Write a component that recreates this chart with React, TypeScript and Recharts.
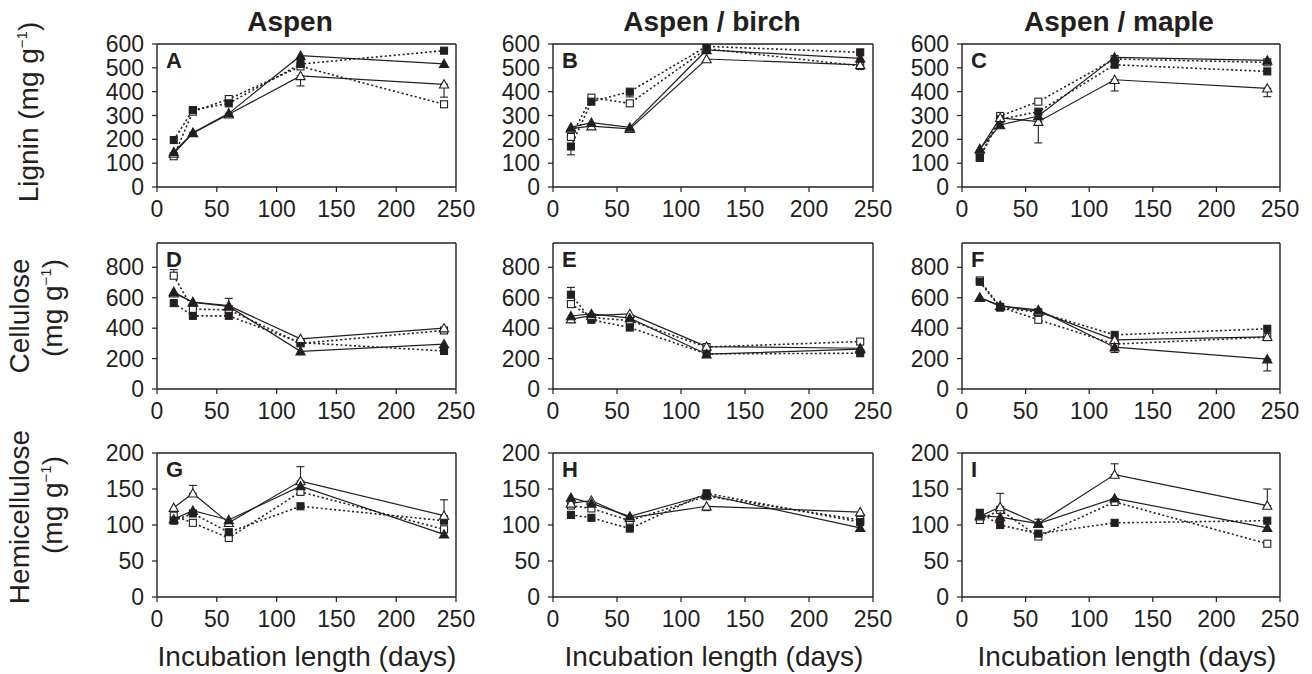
import React from 'react';
import { LineChart, Line, XAxis, YAxis, ErrorBar, ReferenceLine } from 'recharts';

// sampling days
const days = [14, 30, 60, 120, 240];
const dayTicks = [0, 50, 100, 150, 200, 250];

const columnTitles = ['Aspen', 'Aspen / birch', 'Aspen / maple'];
const panelLetters = ['A', 'B', 'C', 'D', 'E', 'F', 'G', 'H', 'I'];

const ligninTicks = [0, 100, 200, 300, 400, 500, 600];
const celluloseTicks = [0, 200, 400, 600, 800];
const hemiTicks = [0, 50, 100, 150, 200];

// ft = filled triangle (solid), ot = open triangle (solid),
// fs = filled square (dotted), os = open square (dotted)
const ligninAspen = {
  ft: [147, 228, 309, 551, 517],
  ot: [140, 226, 305, 466, 431],
  fs: [197, 323, 351, 516, 572],
  os: [129, 316, 369, 506, 347],
};
const ligninBirch = {
  ft: [250, 270, 250, 575, 540],
  ot: [245, 255, 244, 537, 512],
  fs: [170, 358, 400, 590, 565],
  os: [210, 375, 351, 580, 508],
};
const ligninMaple = {
  ft: [160, 260, 298, 544, 531],
  ot: [157, 290, 274, 450, 414],
  fs: [125, 284, 316, 513, 485],
  os: [122, 298, 358, 537, 523],
};
const celluloseAspen = {
  ft: [640, 569, 543, 248, 295],
  ot: [630, 572, 548, 330, 400],
  fs: [565, 481, 481, 305, 250],
  os: [745, 525, 521, 300, 385],
};
const celluloseBirch = {
  ft: [480, 494, 466, 229, 262],
  ot: [459, 482, 494, 279, 268],
  fs: [620, 455, 404, 231, 235],
  os: [558, 470, 450, 276, 312],
};
const celluloseMaple = {
  ft: [600, 545, 520, 275, 196],
  ot: [602, 548, 510, 323, 343],
  fs: [705, 535, 505, 356, 396],
  os: [714, 540, 455, 295, 341],
};
const hemiAspen = {
  ft: [108, 120, 107, 154, 87],
  ot: [124, 144, 103, 161, 113],
  fs: [106, 116, 90, 126, 106],
  os: [113, 103, 82, 146, 94],
};
const hemiBirch = {
  ft: [138, 130, 112, 142, 96],
  ot: [130, 134, 110, 126, 118],
  fs: [114, 110, 95, 144, 104],
  os: [127, 123, 106, 140, 107],
};
const hemiMaple = {
  ft: [113, 111, 102, 137, 96],
  ot: [112, 125, 102, 170, 127],
  fs: [117, 100, 88, 103, 106],
  os: [107, 121, 84, 132, 74],
};

// one-sided error bars: [below, above]
type Err = [number, number] | null;
const ligninAspenErr: Record<string, Err[]> = {
  ft: [null, [15, 0], [15, 0], null, null],
  ot: [null, null, null, [42, 0], [54, 0]],
};
const ligninBirchErr: Record<string, Err[]> = {
  fs: [[35, 0], null, [22, 0], null, null],
};
const ligninMapleErr: Record<string, Err[]> = {
  ot: [null, null, [89, 0], [47, 0], [35, 0]],
};
const celluloseAspenErr: Record<string, Err[]> = {
  os: [[0, 40], null, null, null, null],
  ot: [null, null, [0, 48], null, null],
};
const celluloseBirchErr: Record<string, Err[]> = {
  fs: [[0, 48], null, null, null, null],
};
const celluloseMapleErr: Record<string, Err[]> = {
  ft: [null, null, null, [35, 0], [77, 0]],
};
const hemiAspenErr: Record<string, Err[]> = {
  ot: [null, [0, 11], null, [0, 20], [0, 22]],
};
const hemiBirchErr: Record<string, Err[]> = {
  ot: [null, null, null, [6, 0], null],
};
const hemiMapleErr: Record<string, Err[]> = {
  ot: [null, [0, 19], [0, 6], [0, 15], [0, 23]],
};

const INK = '#231f20';
const FONT = '"Liberation Sans", Arial, Helvetica, sans-serif';

// layout of the plot boxes
const colLeft = [157, 553, 962];
const colWidth = [299, 320, 318];
const rowTop = [44, 243, 453];
const rowHeight = [143, 146, 144];
const rowMax = [600, 960, 200];
const rowTicks = [ligninTicks, celluloseTicks, hemiTicks];

const panels = [
  [ligninAspen, ligninAspenErr], [ligninBirch, ligninBirchErr], [ligninMaple, ligninMapleErr],
  [celluloseAspen, celluloseAspenErr], [celluloseBirch, celluloseBirchErr], [celluloseMaple, celluloseMapleErr],
  [hemiAspen, hemiAspenErr], [hemiBirch, hemiBirchErr], [hemiMaple, hemiMapleErr],
] as const;

const seriesKeys = ['os', 'fs', 'ot', 'ft'];

const makeDot = (kind: string) => (p: any) => {
  const { cx, cy, index } = p;
  const key = `${kind}-${index}`;
  if (cx == null || cy == null) return <g key={key} />;
  const filled = kind[0] === 'f';
  if (kind[1] === 't') {
    const s = 4.6;
    return (
      <path
        key={key}
        d={`M${cx},${cy - s} L${cx + s},${cy + s * 0.8} L${cx - s},${cy + s * 0.8} Z`}
        fill={filled ? INK : '#fff'}
        stroke={INK}
        strokeWidth={1.1}
      />
    );
  }
  const h = 3.5;
  return (
    <rect key={key} x={cx - h} y={cy - h} width={2 * h} height={2 * h}
      fill={filled ? INK : '#fff'} stroke={INK} strokeWidth={1.1} />
  );
};

const YW = 80;
const XH = 45;
const MT = 18;
const MR = 25;

const Panel = ({ idx }: { idx: number }) => {
  const row = Math.floor(idx / 3);
  const col = idx % 3;
  const [vals, errs] = panels[idx] as any;
  const data = days.map((d, i) => {
    const o: any = { day: d };
    seriesKeys.forEach((k) => {
      o[k] = vals[k][i];
      const e = errs[k] ? errs[k][i] : null;
      if (e) o[k + 'Err'] = e;
    });
    return o;
  });
  const max = rowMax[row];
  return (
    <div
      style={{
        position: 'absolute',
        left: colLeft[col] - YW,
        top: rowTop[row] - MT,
        fontFamily: FONT,
      }}
    >
      <LineChart
        width={YW + colWidth[col] + MR}
        height={MT + rowHeight[row] + XH}
        data={data}
        margin={{ top: MT, right: MR, bottom: 0, left: 0 }}
      >
        <XAxis
          type="number"
          dataKey="day"
          domain={[0, 250]}
          ticks={dayTicks}
          interval={0}
          height={XH}
          tickSize={5}
          tickMargin={9}
          axisLine={{ stroke: INK, strokeWidth: 1.4 }}
          tickLine={{ stroke: INK, strokeWidth: 1.2 }}
          tick={{ fontSize: 23, fill: INK }}
        />
        <YAxis
          type="number"
          domain={[0, max]}
          ticks={rowTicks[row]}
          interval={0}
          width={YW}
          tickSize={5}
          tickMargin={8}
          allowDataOverflow
          axisLine={{ stroke: INK, strokeWidth: 1.4 }}
          tickLine={{ stroke: INK, strokeWidth: 1.2 }}
          tick={{ fontSize: 23, fill: INK }}
        />
        <ReferenceLine y={max} stroke={INK} strokeWidth={1.4} />
        <ReferenceLine x={250} stroke={INK} strokeWidth={1.4} />
        {seriesKeys.map((k) => (
          <Line
            key={k}
            type="linear"
            dataKey={k}
            stroke={INK}
            strokeWidth={k[1] === 't' ? 1.2 : 1.6}
            strokeDasharray={k[1] === 's' ? '2 2.5' : undefined}
            dot={makeDot(k)}
            activeDot={false}
            isAnimationActive={false}
          >
            {errs[k] ? (
              <ErrorBar dataKey={k + 'Err'} direction="y" width={4} stroke={INK} strokeWidth={1.1} isAnimationActive={false} />
            ) : null}
          </Line>
        ))}
      </LineChart>
    </div>
  );
};

const titleX = [290, 712, 1119];
const xLabelX = [307, 714, 1127];

const Unit = () => (
  <>
    (mg g
    <tspan dy={-11} fontSize={15}>−1</tspan>
    <tspan dy={11}>)</tspan>
  </>
);

export default function App() {
  return (
    <div style={{ position: 'absolute', left: 0, top: 0, width: 1312, height: 674, background: '#fff', fontFamily: FONT }}>
      {panelLetters.map((_, i) => (
        <Panel key={i} idx={i} />
      ))}
      <svg width={1312} height={674} style={{ position: 'absolute', left: 0, top: 0, pointerEvents: 'none' }}
        fontFamily={FONT} fill={INK}>
        {columnTitles.map((t, i) => (
          <text key={t} x={titleX[i]} y={31} fontSize={28} fontWeight="bold" textAnchor="middle">{t}</text>
        ))}
        {xLabelX.map((x, i) => (
          <text key={i} x={x} y={666} fontSize={28} textAnchor="middle">Incubation length (days)</text>
        ))}
        {panelLetters.map((l, i) => (
          <text key={l} x={colLeft[i % 3] + 9} y={rowTop[Math.floor(i / 3)] + 24} fontSize={22} fontWeight="bold">{l}</text>
        ))}
        <text x={38} y={112} fontSize={28} textAnchor="middle" transform="rotate(-90 38 112)">
          Lignin <Unit />
        </text>
        <text x={29} y={316} fontSize={28} textAnchor="middle" transform="rotate(-90 29 316)">Cellulose</text>
        <text x={62} y={308} fontSize={28} textAnchor="middle" transform="rotate(-90 62 308)"><Unit /></text>
        <text x={29} y={517} fontSize={28} textAnchor="middle" transform="rotate(-90 29 517)">Hemicellulose</text>
        <text x={62} y={505} fontSize={28} textAnchor="middle" transform="rotate(-90 62 505)"><Unit /></text>
      </svg>
    </div>
  );
}
